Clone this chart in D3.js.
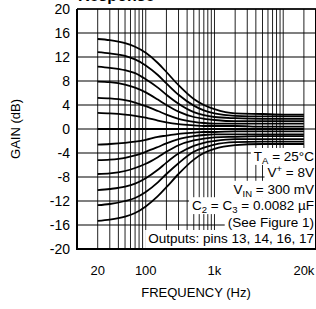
<!DOCTYPE html>
<html>
<head>
<meta http-equiv="Content-Type" content="text/html;charset=utf-8"/>
<style>
  body { margin: 0; background: #fff; }
  text { font-family: "Liberation Sans", Arial, sans-serif; fill: #000; }
</style>
</head>
<body>
<svg id="chart"></svg>
<script src="https://cdn.jsdelivr.net/npm/d3@7"></script>
<script>
var freqs = [20, 30, 50, 70, 100, 150, 200, 300, 500, 700, 1000, 2000, 5000, 10000, 20000];

// Gain (dB) for each curve, top to bottom
var gainCurves = [
  [15.0, 14.8, 14.3, 13.7, 12.7, 11.0, 9.5, 7.3, 5.0, 4.0, 3.3, 2.6, 2.5, 2.4, 2.4],
  [12.8, 12.6, 12.2, 11.6, 10.6, 9.0, 7.6, 5.7, 3.9, 3.1, 2.6, 2.2, 2.1, 2.1, 2.1],
  [10.4, 10.2, 9.8, 9.3, 8.3, 6.9, 5.7, 4.2, 2.8, 2.3, 2.0, 1.8, 1.7, 1.7, 1.7],
  [7.9, 7.8, 7.4, 6.9, 6.1, 4.9, 4.0, 2.9, 2.0, 1.7, 1.5, 1.3, 1.3, 1.3, 1.3],
  [5.2, 5.1, 4.8, 4.4, 3.8, 3.0, 2.4, 1.7, 1.2, 1.0, 0.9, 0.9, 0.9, 0.9, 0.9],
  [2.7, 2.6, 2.4, 2.2, 1.9, 1.4, 1.1, 0.8, 0.6, 0.5, 0.5, 0.5, 0.4, 0.4, 0.4],
  [0, 0, 0, 0, 0, 0, 0, 0, 0, 0, 0, 0, 0, 0, 0],
  [-2.6, -2.5, -2.3, -2.1, -1.8, -1.3, -1.1, -0.8, -0.6, -0.5, -0.5, -0.4, -0.4, -0.4, -0.4],
  [-5.2, -5.1, -4.8, -4.4, -3.8, -3.0, -2.4, -1.7, -1.2, -1.0, -0.9, -0.9, -0.9, -0.9, -0.9],
  [-7.5, -7.4, -7.0, -6.5, -5.8, -4.7, -3.8, -2.7, -1.9, -1.6, -1.4, -1.3, -1.2, -1.2, -1.2],
  [-10.2, -10.0, -9.6, -9.1, -8.2, -6.8, -5.6, -4.1, -2.8, -2.3, -2.0, -1.7, -1.7, -1.7, -1.7],
  [-12.7, -12.5, -12.0, -11.5, -10.5, -8.9, -7.5, -5.7, -3.8, -3.1, -2.6, -2.2, -2.1, -2.1, -2.1],
  [-15.3, -15.1, -14.6, -14.0, -12.9, -11.2, -9.7, -7.5, -5.1, -4.0, -3.3, -2.7, -2.5, -2.5, -2.5]
];

// Axis ticks and grid
var yTicks = [20, 16, 12, 8, 4, 0, -4, -8, -12, -16, -20];
var xTickValues = [20, 100, 1000, 20000];
var xTickLabels = ['20', '100', '1k', '20k'];
var gridFreqs = [20, 30, 40, 50, 60, 70, 80, 90,
  100, 200, 300, 400, 500, 600, 700, 800, 900,
  1000, 2000, 3000, 4000, 5000, 6000, 7000, 8000, 9000, 10000, 20000];

// Conditions box (right aligned, bottom right of the plot)
var noteRows = [
  [['T', ''], ['A', 'sub'], [' = 25°C', '']],
  [['V', ''], ['+', 'sup'], [' = 8V', '']],
  [['V', ''], ['IN', 'sub'], [' = 300 mV', '']],
  [['C', ''], ['2', 'sub'], [' = C', ''], ['3', 'sub'], [' = 0.0082 µF', '']],
  [['(See Figure 1)', '']],
  [['Outputs: pins 13, 14, 16, 17', '']]
];

var width = 316, height = 309;
var plot = { left: 77, right: 316, top: 9, bottom: 249 };

var svg = d3.select('#chart')
  .attr('width', width)
  .attr('height', height);

var x = d3.scaleLog()
  .domain([10, 30000])
  .range([plot.left, plot.right]);

var y = d3.scaleLinear()
  .domain([-20, 20])
  .range([plot.bottom, plot.top]);

// partial title cut off by the top edge
svg.append('text')
  .attr('x', 78)
  .attr('y', 0.5)
  .attr('font-size', '16px')
  .attr('font-weight', 'bold')
  .text('Response');

// vertical grid
svg.append('g')
  .selectAll('line')
  .data(gridFreqs)
  .join('line')
  .attr('x1', function(d) { return x(d); })
  .attr('x2', function(d) { return x(d); })
  .attr('y1', plot.top)
  .attr('y2', plot.bottom)
  .attr('stroke', '#222')
  .attr('stroke-width', 1);

// horizontal grid
svg.append('g')
  .selectAll('line')
  .data(yTicks)
  .join('line')
  .attr('x1', plot.left)
  .attr('x2', plot.right)
  .attr('y1', function(d) { return y(d); })
  .attr('y2', function(d) { return y(d); })
  .attr('stroke', '#000')
  .attr('stroke-width', 1.2);

// curves
var line = d3.line()
  .x(function(d, i) { return x(freqs[i]); })
  .y(function(d) { return y(d); })
  .curve(d3.curveMonotoneX);

svg.append('g')
  .selectAll('path')
  .data(gainCurves)
  .join('path')
  .attr('d', line)
  .attr('fill', 'none')
  .attr('stroke', '#000')
  .attr('stroke-width', 1.8);

// notes with white backing: backgrounds go in their own layer under all texts
var noteX = 314, noteBase = 161, noteStep = 16.4;
var noteBg = svg.append('g');
var noteText = svg.append('g');
noteRows.forEach(function(row, i) {
  var by = noteBase + i * noteStep;
  var t = noteText.append('text')
    .attr('x', noteX)
    .attr('y', by)
    .attr('text-anchor', 'end')
    .attr('font-size', '13.5px');
  var shift = 0;
  row.forEach(function(p) {
    var ts = t.append('tspan').text(p[0]);
    var target = p[1] === 'sub' ? 3 : (p[1] === 'sup' ? -5 : 0);
    if (target !== shift) { ts.attr('dy', target - shift); shift = target; }
    if (p[1]) ts.attr('font-size', '9.5px');
  });
  var bb = t.node().getBBox();
  noteBg.append('rect')
    .attr('fill', '#fff')
    .attr('x', bb.x - 3)
    .attr('y', by - 13)
    .attr('width', plot.right - bb.x + 3)
    .attr('height', (i === noteRows.length - 1) ? plot.bottom - (by - 13) : noteStep + 0.5);
});

// plot frame
svg.append('line')
  .attr('x1', plot.left).attr('x2', plot.left)
  .attr('y1', plot.top).attr('y2', plot.bottom + 1)
  .attr('stroke', '#000').attr('stroke-width', 2);
svg.append('line')
  .attr('x1', plot.left).attr('x2', plot.right)
  .attr('y1', plot.top).attr('y2', plot.top)
  .attr('stroke', '#000').attr('stroke-width', 1.5);
svg.append('line')
  .attr('x1', plot.left).attr('x2', plot.right)
  .attr('y1', plot.bottom).attr('y2', plot.bottom)
  .attr('stroke', '#000').attr('stroke-width', 2);
svg.append('line')
  .attr('x1', plot.right - 0.5).attr('x2', plot.right - 0.5)
  .attr('y1', plot.top).attr('y2', plot.bottom)
  .attr('stroke', '#000').attr('stroke-width', 1);

// y tick labels
svg.append('g')
  .selectAll('text')
  .data(yTicks)
  .join('text')
  .attr('x', 70)
  .attr('y', function(d) { return y(d); })
  .attr('dy', '0.36em')
  .attr('text-anchor', 'end')
  .attr('font-size', '14px')
  .text(function(d) { return d < 0 ? '-' + Math.abs(d) : d; });

// x tick labels
svg.append('g')
  .selectAll('text')
  .data(xTickValues)
  .join('text')
  .attr('x', function(d) { return x(d); })
  .attr('y', 275)
  .attr('text-anchor', 'middle')
  .attr('font-size', '13px')
  .text(function(d, i) { return xTickLabels[i]; });

// axis titles
svg.append('text')
  .attr('x', 196)
  .attr('y', 297)
  .attr('text-anchor', 'middle')
  .attr('font-size', '13px')
  .text('FREQUENCY (Hz)');

svg.append('text')
  .attr('transform', 'translate(20,129) rotate(-90)')
  .attr('text-anchor', 'middle')
  .attr('font-size', '13px')
  .text('GAIN (dB)');
</script>
</body>
</html>
